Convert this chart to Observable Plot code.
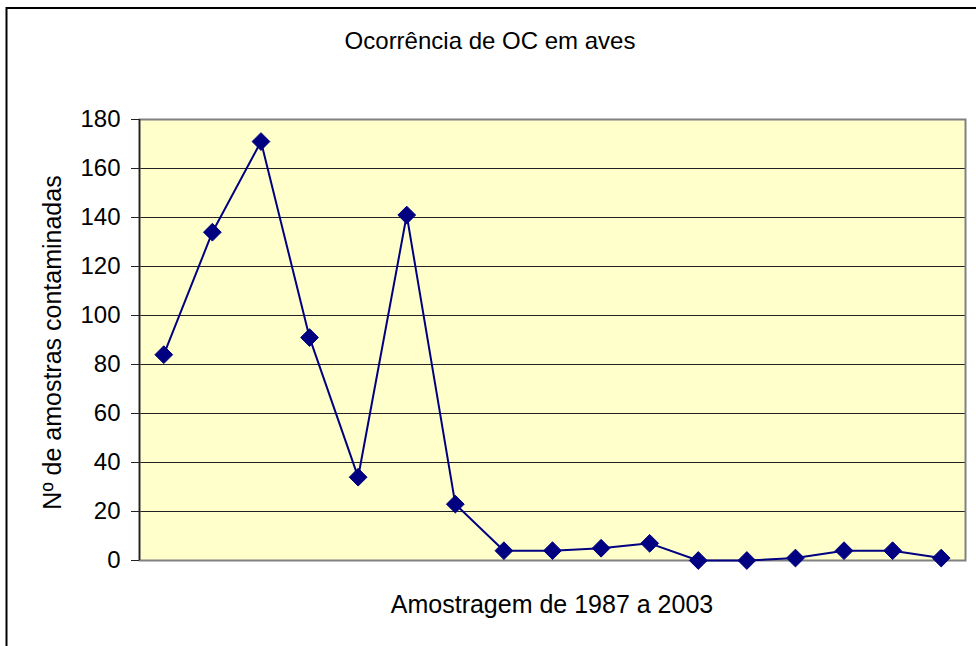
<!DOCTYPE html>
<html>
<head>
<meta charset="utf-8">
<script src="https://cdn.jsdelivr.net/npm/d3@7"></script>
<script src="https://cdn.jsdelivr.net/npm/@observablehq/plot@0.6"></script>
<style>
  html, body { margin: 0; padding: 0; background: #ffffff; }
  #chart { width: 976px; height: 646px; overflow: hidden; }
</style>
</head>
<body>
<div id="chart"></div>
<script>
const years = [1987, 1988, 1989, 1990, 1991, 1992, 1993, 1994, 1995, 1996, 1997, 1998, 1999, 2000, 2001, 2002, 2003];
const counts = [84, 134, 171, 91, 34, 141, 23, 4, 4, 5, 7, 0, 0, 1, 4, 4, 1];
const yTicks = [0, 20, 40, 60, 80, 100, 120, 140, 160, 180];
const gridValues = [20, 40, 60, 80, 100, 120, 140, 160];
const titleText = "Ocorrência de OC em aves";
const xLabel = "Amostragem de 1987 a 2003";
const yLabel = "Nº de amostras contaminadas";

const data = years.map((y, i) => ({year: y, value: counts[i]}));
const xMin = d3.min(years) - 0.5;
const xMax = d3.max(years) + 0.5;

const W = 976, H = 646;
const ML = 139, MR = 11, MT = 119, MB = 86;
const FONT = "'Liberation Sans', Arial, sans-serif";

const plot = Plot.plot({
  width: W,
  height: H,
  marginLeft: ML,
  marginRight: MR,
  marginTop: MT,
  marginBottom: MB,
  style: {fontFamily: FONT, fontSize: "24px", color: "black", background: "transparent", overflow: "visible"},
  x: {type: "linear", domain: [xMin, xMax], axis: null},
  y: {domain: [0, 180], axis: null},
  marks: [
    Plot.frame({fill: "#FFFFCC", stroke: null}),
    Plot.ruleY(gridValues, {stroke: "#222", strokeWidth: 1}),
    Plot.frame({stroke: "#808080", strokeWidth: 2}),
    Plot.ruleX([xMin], {stroke: "#222", strokeWidth: 1.5}),
    Plot.axisY({ticks: yTicks, label: null, tickSize: 8, tickPadding: 11, fontSize: 24, stroke: "#222", fill: "black", tickFormat: d => String(d)}),
    Plot.line(data, {x: "year", y: "value", stroke: "#000080", strokeWidth: 2}),
    Plot.dot(data, {x: "year", y: "value", symbol: "diamond2", r: 8, fill: "#000080", stroke: "#000080", strokeWidth: 1})
  ]
});

const svg = d3.select(plot);
// outer chart area border
svg.insert("rect", ":first-child")
  .attr("x", 6.5).attr("y", 8).attr("width", 1000).attr("height", 700)
  .attr("fill", "white").attr("stroke", "black").attr("stroke-width", 2);

svg.append("text")
  .attr("x", 490).attr("y", 49)
  .attr("text-anchor", "middle")
  .attr("font-family", FONT).attr("font-size", 24).attr("fill", "black")
  .text(titleText);

svg.append("text")
  .attr("x", (ML + W - MR) / 2).attr("y", 613)
  .attr("text-anchor", "middle")
  .attr("font-family", FONT).attr("font-size", 25).attr("fill", "black")
  .text(xLabel);

svg.append("text")
  .attr("transform", `translate(61, ${(MT + H - MB) / 2 + 3}) rotate(-90)`)
  .attr("text-anchor", "middle")
  .attr("font-family", FONT).attr("font-size", 25).attr("fill", "black")
  .text(yLabel);

document.getElementById("chart").appendChild(plot);
</script>
</body>
</html>
